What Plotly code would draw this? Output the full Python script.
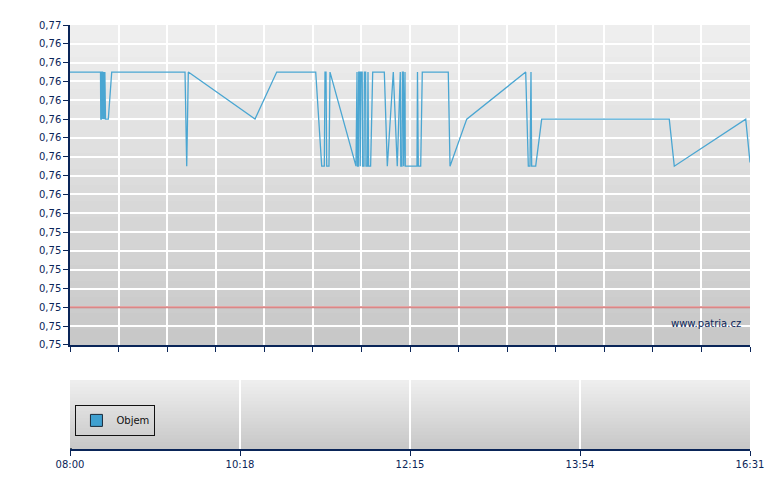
import plotly.graph_objects as go

# ---- data ----
# x: position along the session axis (0 = 08:00 ... 140 = 16:31), price levels
pos = [0, 6.28, 6.34, 6.49, 6.55, 6.71, 6.77, 6.92, 7.04, 7.18, 7.31, 7.89, 8.59,
       23.68, 24.03, 24.36, 38.09, 42.56, 50.59, 51.82, 52.36, 52.50, 52.71, 52.85,
       53.32, 53.53, 58.88, 59.09, 59.19, 59.36, 59.44, 59.65, 59.75, 59.91, 60.16,
       60.24, 60.53, 60.61, 60.86, 60.94, 61.23, 61.35, 61.47, 61.89, 62.32, 64.71,
       65.33, 66.56, 67.38, 68.00, 68.10, 68.35, 68.44, 68.62, 68.70, 68.97, 69.03,
       71.44, 71.54, 71.71, 72.20, 72.53, 77.88, 78.24, 81.68, 93.82, 94.36, 94.71,
       94.91, 95.05, 95.88, 97.11, 123.38, 124.41, 139.12, 140.0]
price = [0.763, 0.763, 0.7605, 0.7605, 0.763, 0.763, 0.7605, 0.763, 0.7605, 0.763,
         0.7605, 0.7605, 0.763,
         0.763, 0.758, 0.763, 0.7605, 0.763, 0.763, 0.758, 0.758, 0.763, 0.763, 0.758,
         0.758, 0.763, 0.758, 0.763, 0.758, 0.758, 0.763, 0.763, 0.758, 0.763, 0.763,
         0.758, 0.758, 0.763, 0.763, 0.758, 0.758, 0.763, 0.758, 0.758, 0.763, 0.763,
         0.758, 0.763, 0.758, 0.763, 0.758, 0.758, 0.763, 0.763, 0.758, 0.763, 0.758,
         0.758, 0.763, 0.758, 0.758, 0.763, 0.763, 0.758, 0.7605, 0.763, 0.758, 0.758,
         0.763, 0.758, 0.758, 0.7605, 0.7605, 0.758, 0.7605, 0.7582]
prev_close = 0.7505
volume_pos = [0]
volume_val = [0]
x_range = [0, 140]
y_range = [0.7485, 0.7655]
y_step = 0.001
x_grid_step = 10
time_labels = ["08:00", "10:18", "12:15", "13:54", "16:31"]
time_label_pos = [0, 35, 70, 105, 140]

NAVY = "#0a2558"
FONT = "DejaVu Sans"

fig = go.Figure()

fig.add_trace(go.Scatter(x=pos, y=price, mode="lines",
                         line=dict(color="#4aa6d2", width=1.3),
                         showlegend=False, xaxis="x", yaxis="y"))
fig.add_trace(go.Scatter(x=x_range, y=[prev_close, prev_close], mode="lines",
                         line=dict(color="rgba(205,95,95,0.75)", width=2),
                         showlegend=False, xaxis="x", yaxis="y"))
fig.add_trace(go.Bar(x=volume_pos, y=volume_val, name="Objem",
                     marker=dict(color="#3fa0d0", line=dict(color="#1a2a3a", width=1)),
                     showlegend=True, xaxis="x2", yaxis="y2"))

# gradient backgrounds (each strip runs to the top, later strips cover it -> no seams)
shapes = []
N = 40
for xr, yr in [("x domain", "y domain"), ("x2 domain", "y2 domain")]:
    top_c, bot_c = 239, 199
    for i in range(N):
        f = (i + 0.5) / N
        c = round(bot_c + (top_c - bot_c) * f)
        shapes.append(dict(type="rect", xref=xr, yref=yr, x0=0, x1=1,
                           y0=i / N, y1=1, layer="below",
                           line=dict(width=0), fillcolor=f"rgb({c},{c},{c})"))

fig.update_layout(
    width=780, height=490,
    margin=dict(l=70, r=30, t=25, b=41),
    paper_bgcolor="white", plot_bgcolor="rgba(0,0,0,0)",
    separators=", ",
    font=dict(family=FONT, size=10, color=NAVY),
    shapes=shapes,
    showlegend=True,
    legend=dict(x=0.008, y=0.104, xanchor="left", yanchor="top",
                bgcolor="rgba(0,0,0,0)", bordercolor="#111111", borderwidth=1,
                font=dict(family=FONT, size=10, color="#111111"),
                itemwidth=30, tracegroupgap=0),
    xaxis=dict(domain=[0, 1], range=x_range, dtick=x_grid_step, tick0=0,
               showticklabels=False, showgrid=True, gridcolor="white", gridwidth=1.5,
               showline=True, linecolor=NAVY, linewidth=1.5,
               ticks="outside", ticklen=5, tickcolor=NAVY, zeroline=False,
               anchor="y"),
    yaxis=dict(domain=[0.2453, 1], range=y_range, tick0=y_range[0], dtick=y_step,
               tickformat=".2f", showgrid=True, gridcolor="white", gridwidth=1.5,
               showline=True, linecolor=NAVY, linewidth=1.5,
               ticks="outside", ticklen=5, tickcolor=NAVY, zeroline=False,
               anchor="x"),
    xaxis2=dict(domain=[0, 1], range=x_range, tickvals=time_label_pos,
                ticktext=time_labels, showgrid=True, gridcolor="white", gridwidth=1.5,
                showline=True, linecolor=NAVY, linewidth=1.5,
                ticks="outside", ticklen=5, tickcolor=NAVY, zeroline=False,
                anchor="y2"),
    yaxis2=dict(domain=[0, 0.1627], range=[0, 1], showticklabels=False,
                showgrid=False, zeroline=False, showline=False, ticks="",
                anchor="x2"),
    annotations=[dict(text="www.patria.cz", xref="paper", yref="paper",
                      x=0.99, y=0.297, xanchor="right",
                      yanchor="middle", showarrow=False,
                      font=dict(family=FONT, size=10, color=NAVY))],
)

fig.write_html("out.html", config={"displayModeBar": False},
               post_script="document.body.style.margin='0';")
